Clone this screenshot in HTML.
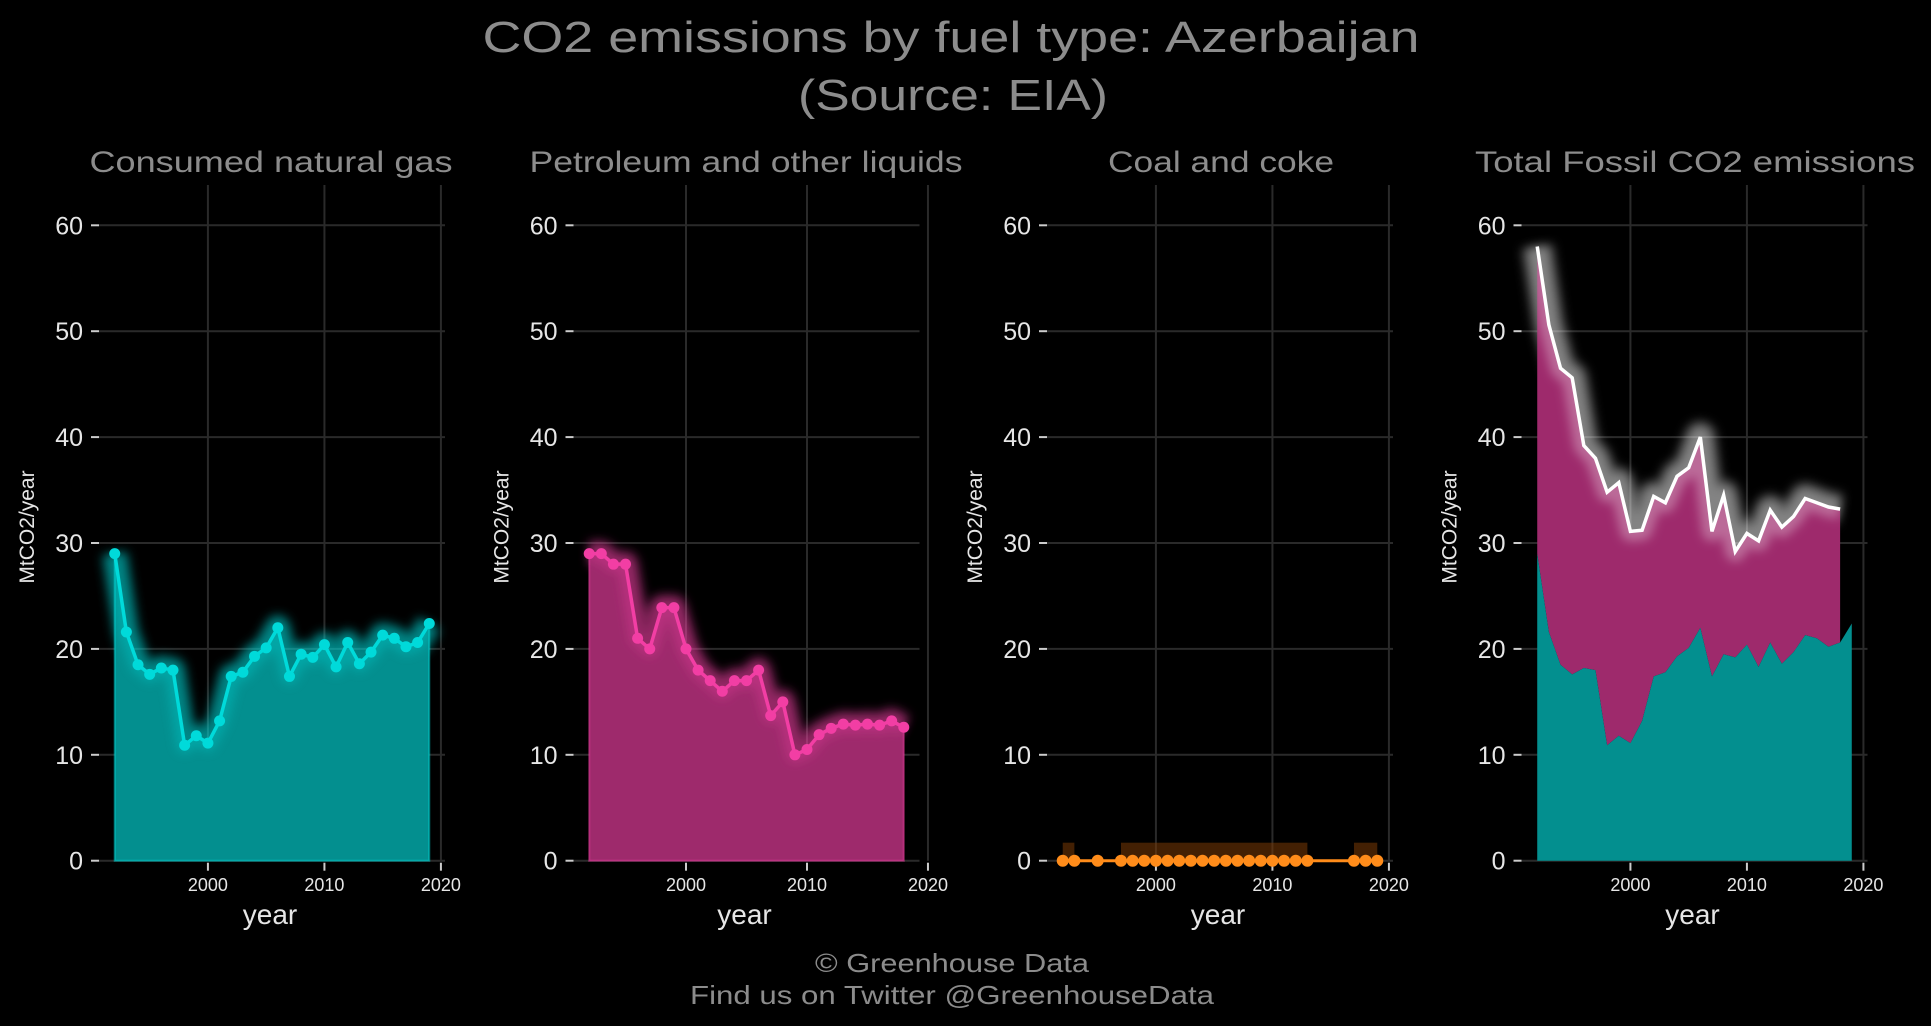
<!DOCTYPE html>
<html><head><meta charset="utf-8"><style>
html,body{margin:0;padding:0;background:#000;}
svg{display:block;}
text{font-family:"Liberation Sans",sans-serif;}
</style></head><body>
<svg id="chart" width="1931" height="1026" xmlns="http://www.w3.org/2000/svg">
<defs>
<filter id="glow" x="-20%" y="-20%" width="140%" height="140%"><feGaussianBlur stdDeviation="5"/></filter>
</defs>
<rect width="1931" height="1026" fill="#000"/>
<text x="951" y="52" text-anchor="middle" font-size="44" fill="#8c8c8c" textLength="937" lengthAdjust="spacingAndGlyphs">CO2 emissions by fuel type: Azerbaijan</text>
<text x="953" y="110" text-anchor="middle" font-size="44" fill="#8c8c8c" textLength="310" lengthAdjust="spacingAndGlyphs">(Source: EIA)</text>
<text x="952" y="972" text-anchor="middle" font-size="26" fill="#8c8c8c" textLength="274" lengthAdjust="spacingAndGlyphs">© Greenhouse Data</text>
<text x="952" y="1004" text-anchor="middle" font-size="26" fill="#8c8c8c" textLength="524" lengthAdjust="spacingAndGlyphs">Find us on Twitter @GreenhouseData</text>
<g id="panels"></g>
</svg>
<script>
const years = [1992,1993,1994,1995,1996,1997,1998,1999,2000,2001,2002,2003,2004,2005,2006,2007,2008,2009,2010,2011,2012,2013,2014,2015,2016,2017,2018,2019];
const gas = [29.0,21.6,18.5,17.6,18.2,18.0,10.9,11.8,11.1,13.2,17.4,17.8,19.3,20.1,22.0,17.4,19.5,19.2,20.4,18.3,20.6,18.6,19.7,21.3,21.0,20.2,20.6,22.4];
const petroleum = [29.0,29.0,28.0,28.0,21.0,20.0,23.9,23.9,20.0,18.0,17.0,16.0,17.0,17.0,18.0,13.7,15.0,10.0,10.5,11.9,12.5,12.9,12.8,12.9,12.8,13.2,12.6,null];
const coal = [0,0,null,0,null,0,0,0,0,0,0,0,0,0,0,0,0,0,0,0,0,0,null,null,null,0,0,0];
const yTicks = [0,10,20,30,40,50,60];
const xTicks = [2000,2010,2020];
const panelTitles = ["Consumed natural gas","Petroleum and other liquids","Coal and coke","Total Fossil CO2 emissions"];
const titleCenters = [271,746,1221,1695];
const titleWidths = [363,433,226,440];

const NS="http://www.w3.org/2000/svg";
const root=document.getElementById('panels');
function mk(tag,attrs,parent){const e=document.createElementNS(NS,tag);for(const k in attrs)e.setAttribute(k,attrs[k]);(parent||root).appendChild(e);return e;}
const Y0=860.7, PXU=10.59, YTOP=185;
function ys(v){return Y0-v*PXU;}
const offsets=[0,474.5,948,1422.5];

function panel(i){
  const g=mk('g',{});
  
  
  const left=99+offsets[i], right=445+offsets[i];
  let x0=1990.65,x1=2020.35;
  if(i===1){x0=1990.7;x1=2019.3;}
  const xs=v=>left+(v-x0)/(x1-x0)*(right-left);
  yTicks.forEach(t=>{
    const l=mk('line',{x1:left,x2:right,y1:ys(t),y2:ys(t),stroke:'#2a2a2a','stroke-width':2},g);
    
    
    const tk=mk('line',{x1:left-8,x2:left,y1:ys(t),y2:ys(t),stroke:'#ccc','stroke-width':2},g);
    
    
    const tx=mk('text',{x:left-16,y:ys(t)+9,'text-anchor':'end','font-size':25,fill:'#e6e6e6'},g);
    tx.textContent=t;
    
    
  });
  xTicks.forEach(t=>{
    const l=mk('line',{x1:xs(t),x2:xs(t),y1:YTOP,y2:ys(0),stroke:'#2a2a2a','stroke-width':2},g);
    
    
    const tk=mk('line',{x1:xs(t),x2:xs(t),y1:ys(0)+2,y2:ys(0)+10,stroke:'#ccc','stroke-width':2},g);
    
    
    const tx=mk('text',{x:xs(t),y:891,'text-anchor':'middle','font-size':18,fill:'#e6e6e6'},g);
    tx.textContent=t;
    
    
  });
  const tt=mk('text',{x:titleCenters[i],y:172,'text-anchor':'middle','font-size':30,fill:'#8c8c8c',textLength:titleWidths[i],lengthAdjust:'spacingAndGlyphs'},g);
  tt.textContent=panelTitles[i];
  
  
  const yl=mk('text',{x:0,y:0,'text-anchor':'middle','font-size':21,fill:'#e6e6e6',transform:`translate(${34+offsets[i]},527) rotate(-90)`},g);
  yl.textContent='MtCO2/year';
  
  
  const xl=mk('text',{x:(left+right)/2-2,y:924,'text-anchor':'middle','font-size':28,fill:'#e6e6e6'},g);
  xl.textContent='year';
  
  

  function series(vals,fill,line,name){
    const pts=[];vals.forEach((v,k)=>{if(v!==null)pts.push([xs(years[k]),ys(v)]);});
    const d='M'+pts.map(p=>p.join(',')).join('L');
    const area=d+`L${pts[pts.length-1][0]},${ys(0)}L${pts[0][0]},${ys(0)}Z`;
    const gl=mk('path',{d:d,fill:'none',stroke:line,'stroke-width':26,'stroke-opacity':0.45,filter:'url(#glow)','stroke-linejoin':'round'},g);
    
    
    const a=mk('path',{d:area,fill:fill,stroke:line,'stroke-opacity':0.5,'stroke-width':2},g);
    
    
    const gl2=mk('path',{d:d,fill:'none',stroke:line,'stroke-width':16,'stroke-opacity':0.3,filter:'url(#glow)','stroke-linejoin':'round'},g);
    
    
    const ln=mk('path',{d:d,fill:'none',stroke:line,'stroke-width':3.5,'stroke-linejoin':'round'},g);
    
    
    pts.forEach(p=>{const c=mk('circle',{cx:p[0],cy:p[1],r:5.5,fill:line},g);
      
      });
  }
  if(i===0) series(gas,'#038f8f','#00dada','gas');
  if(i===1) series(petroleum,'#9e2a6c','#f23ea4','petroleum');
  if(i===2){
    const first=coal.findIndex(v=>v!==null);let last=-1;coal.forEach((v,k)=>{if(v!==null)last=k;});
    // glow bars for contiguous runs
    let runStart=null;
    for(let k=0;k<=coal.length;k++){
      const ok=k<coal.length&&coal[k]!==null&&(k===0||coal[k-1]!==null||true);
      const contig=k<coal.length&&coal[k]!==null;
      if(contig&&runStart===null)runStart=k;
      if(!contig&&runStart!==null){
        if(k-1>runStart){
          const r=mk('rect',{x:xs(years[runStart]),y:ys(0)-18,width:xs(years[k-1])-xs(years[runStart]),height:18,fill:'#7a3a05','fill-opacity':0.55},g);
          
          
        }
        runStart=null;
      }
    }
    const ln=mk('line',{x1:xs(years[first]),x2:xs(years[last]),y1:ys(0),y2:ys(0),stroke:'#ff8c1a','stroke-width':3},g);
    
    
    coal.forEach((v,k)=>{if(v===null)return;const c=mk('circle',{cx:xs(years[k]),cy:ys(v),r:6,fill:'#ff8c1a'},g);
      
      });
  }
  if(i===3){
    const gp=[];gas.forEach((v,k)=>gp.push([xs(years[k]),ys(v)]));
    const ga='M'+gp.map(p=>p.join(',')).join('L')+`L${gp[gp.length-1][0]},${ys(0)}L${gp[0][0]},${ys(0)}Z`;
    const tp=[];years.forEach((y,k)=>{if(petroleum[k]===null)return;tp.push([xs(y),ys(gas[k]+petroleum[k]+(coal[k]||0))]);});
    const bp=[];years.forEach((y,k)=>{if(petroleum[k]===null)return;bp.push([xs(y),ys(gas[k])]);});
    const pa='M'+tp.map(p=>p.join(',')).join('L')+'L'+bp.reverse().map(p=>p.join(',')).join('L')+'Z';
    const d='M'+tp.map(p=>p.join(',')).join('L');
    const gl=mk('path',{d:d,fill:'none',stroke:'#ffffff','stroke-width':32,'stroke-opacity':0.3,filter:'url(#glow)','stroke-linejoin':'round'},g);
    
    
    const a1=mk('path',{d:pa,fill:'#9e2a6c'},g);
    
    
    const a2=mk('path',{d:ga,fill:'#038f8f'},g);
    
    
    const gl2=mk('path',{d:d,fill:'none',stroke:'#ffffff','stroke-width':20,'stroke-opacity':0.3,filter:'url(#glow)','stroke-linejoin':'round'},g);
    
    
    const ln=mk('path',{d:d,fill:'none',stroke:'#ffffff','stroke-width':3.5,'stroke-linejoin':'miter'},g);
    
    
  }
}
for(let i=0;i<4;i++)panel(i);
</script>
</body></html>
